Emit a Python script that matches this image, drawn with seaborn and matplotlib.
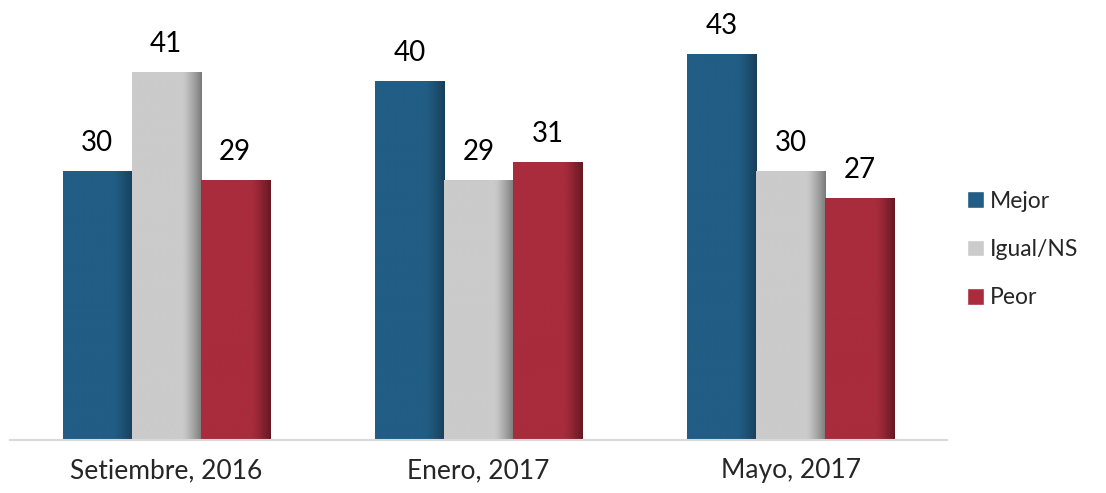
import numpy as np
import pandas as pd
import matplotlib
matplotlib.use("Agg")
import matplotlib.pyplot as plt
import seaborn as sns
from matplotlib.colors import LinearSegmentedColormap
from matplotlib.patches import Patch

periods = ["Setiembre, 2016", "Enero, 2017", "Mayo, 2017"]
series = ["Mejor", "Igual/NS", "Peor"]
mejor = [30, 40, 43]
igual = [41, 29, 30]
peor = [29, 31, 27]

colors = {"Mejor": ("#215d84", "#173f5a"),
          "Igual/NS": ("#cbcbcb", "#7a7a7a"),
          "Peor": ("#a82c3c", "#661722")}

df = pd.DataFrame({
    "period": periods * 3,
    "series": [s for s in series for _ in periods],
    "value": mejor + igual + peor,
})

sns.set_style("white")
plt.rcParams["font.family"] = ["Lato", "DejaVu Sans"]

fig = plt.figure(figsize=(11.06, 4.93), dpi=100)
ax = fig.add_axes([10 / 1106, 53 / 493, 937 / 1106, 440 / 493])

sns.barplot(data=df, x="period", y="value", hue="series", order=periods,
            hue_order=series, palette={k: v[0] for k, v in colors.items()},
            width=0.663, gap=0, legend=False, ax=ax)

# shaded right edge like the original 3D-ish bars
grad = np.linspace(0, 1, 200)
grad = np.clip((grad - 0.72) / 0.28, 0, 1) ** 1.3
grad = grad[np.newaxis, :]
for i, s in enumerate(series):
    cmap = LinearSegmentedColormap.from_list(s, list(colors[s]))
    for p in ax.containers[i]:
        x0, w, h = p.get_x(), p.get_width(), p.get_height()
        im = ax.imshow(grad, cmap=cmap, vmin=0, vmax=1, aspect="auto",
                       extent=[x0, x0 + w, 0, h], zorder=p.get_zorder())
        im.set_clip_path(p)
        ax.annotate(f"{h:.0f}", (x0 + w / 2, h), xytext=(0, 11),
                    textcoords="offset points", ha="center", va="bottom",
                    fontsize=20, color="black")
ax.set_ylim(0, 49.05)
ax.set_xlim(-0.5, 2.5)

sns.despine(ax=ax, left=True)
ax.spines["bottom"].set_color("#d9d9d9")
ax.spines["bottom"].set_linewidth(1.5)
ax.set_yticks([])
ax.set_xlabel("")
ax.set_ylabel("")
ax.tick_params(axis="x", length=0, labelsize=19, pad=13)

handles = [Patch(facecolor=colors[s][0], label=s) for s in series]
fig.legend(handles=handles, loc="center left",
           bbox_to_anchor=(946 / 1106, 0.5 - 3 / 493),
           frameon=False, fontsize=16.5, handlelength=0.75, handleheight=0.75,
           handletextpad=0.25, labelspacing=1.2)

fig.savefig("out.png", dpi=100)
